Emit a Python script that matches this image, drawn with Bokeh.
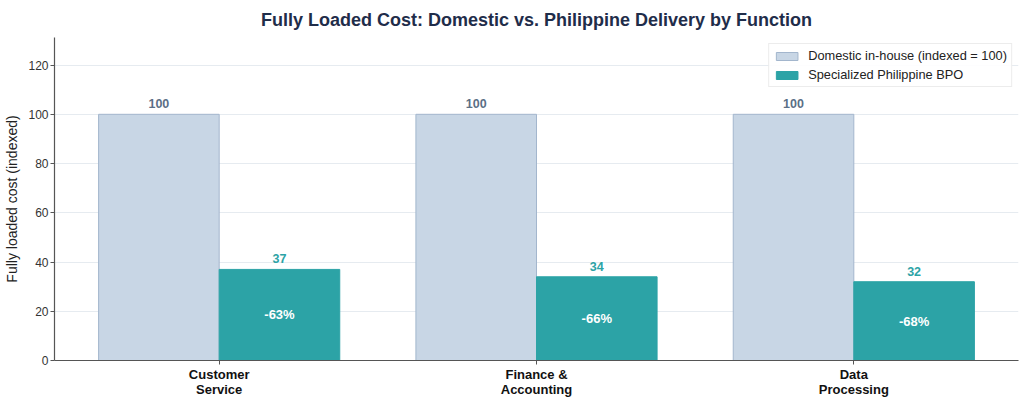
from bokeh.plotting import figure
from bokeh.models import FixedTicker, ColumnDataSource, Range1d, Legend, LegendItem
from bokeh.core.properties import value
from bokeh.embed import file_html
from bokeh.resources import INLINE

categories = ["Customer\nService", "Finance &\nAccounting", "Data\nProcessing"]
domestic = [100, 100, 100]
philippine = [37, 34, 32]
series_names = ["Domestic in-house (indexed = 100)", "Specialized Philippine BPO"]
y_ticks = [0, 20, 40, 60, 80, 100, 120]
title_text = "Fully Loaded Cost: Domestic vs. Philippine Delivery by Function"

FONT = "Liberation Sans"
W = 0.38
idx = list(range(len(categories)))
xd = [i - W / 2 for i in idx]
xp = [i + W / 2 for i in idx]
savings = [f"{round((p - d) / d * 100)}%" for p, d in zip(philippine, domestic)]

p = figure(width=1024, height=403, output_backend="svg", toolbar_location=None,
           x_range=Range1d(-0.519, 2.519), y_range=Range1d(0, 131.2),
           min_border_left=54, min_border_right=6, min_border_top=35, min_border_bottom=43)

p.title.text = title_text
p.title.align = "center"
p.title.text_font = FONT
p.title.text_font_size = "18px"
p.title.text_font_style = "bold"
p.title.text_color = "#1f2d4a"
p.title.offset = 0
p.title.standoff = 15

src_d = ColumnDataSource(dict(x=xd, top=domestic, lab=[str(v) for v in domestic]))
src_p = ColumnDataSource(dict(x=xp, top=philippine, lab=[str(v) for v in philippine],
                              mid=[v / 2 for v in philippine], sav=savings))

rd = p.vbar(x="x", top="top", width=W, source=src_d, fill_color="#c8d6e5",
            line_color="#a3b6cd", line_width=1)
rp = p.vbar(x="x", top="top", width=W, source=src_p, fill_color="#2ca3a6",
            line_color="#2ca3a6", line_width=1)

p.text(x="x", y="top", text="lab", source=src_d, text_align="center", text_baseline="bottom",
       y_offset=-6, text_font=value(FONT), text_font_size="12.5px", text_font_style="bold",
       text_color="#5b6f86")
p.text(x="x", y="top", text="lab", source=src_p, text_align="center", text_baseline="bottom",
       y_offset=-6, text_font=value(FONT), text_font_size="12.5px", text_font_style="bold",
       text_color="#2ca3a6")
p.text(x="x", y="mid", text="sav", source=src_p, text_align="center", text_baseline="middle",
       text_font=value(FONT), text_font_size="13px", text_font_style="bold",
       text_color="white")

legend = Legend(items=[LegendItem(label=series_names[0], renderers=[rd]),
                       LegendItem(label=series_names[1], renderers=[rp])],
                location="top_right")
legend.label_text_font = FONT
legend.label_text_font_size = "12.8px"
legend.label_text_color = "#222222"
legend.glyph_width = 27
legend.glyph_height = 10
legend.label_height = 15
legend.spacing = 4
legend.padding = 4
legend.margin = 6
legend.label_standoff = 8
legend.border_line_color = "#d9d9d9"
legend.background_fill_alpha = 0.9
p.add_layout(legend)

p.xaxis.ticker = FixedTicker(ticks=idx)
p.xaxis.major_label_overrides = {i: c for i, c in zip(idx, categories)}
p.xaxis.major_label_text_font = FONT
p.xaxis.major_label_text_font_size = "13px"
p.xaxis.major_label_text_font_style = "bold"
p.xaxis.major_label_text_color = "#111111"
p.xaxis.major_label_text_line_height = 1.0
p.xaxis.major_label_standoff = 2
p.xaxis.axis_line_color = "#555555"
p.xaxis.axis_line_width = 1.2
p.xaxis.major_tick_line_color = "#555555"
p.xaxis.major_tick_out = 4
p.xaxis.major_tick_in = 0
p.xaxis.minor_tick_line_color = None

p.yaxis.ticker = FixedTicker(ticks=y_ticks)
p.yaxis.axis_label = "Fully loaded cost (indexed)"
p.yaxis.axis_label_text_font = FONT
p.yaxis.axis_label_text_font_size = "14px"
p.yaxis.axis_label_text_font_style = "normal"
p.yaxis.axis_label_text_color = "#222222"
p.yaxis.axis_label_standoff = 5
p.yaxis.major_label_standoff = 2
p.yaxis.major_label_text_font = FONT
p.yaxis.major_label_text_font_size = "12px"
p.yaxis.major_label_text_color = "#333333"
p.yaxis.axis_line_color = "#555555"
p.yaxis.axis_line_width = 1.2
p.yaxis.major_tick_line_color = "#555555"
p.yaxis.major_tick_out = 4
p.yaxis.major_tick_in = 0
p.yaxis.minor_tick_line_color = None

p.xgrid.grid_line_color = None
p.ygrid.grid_line_color = "#e6ebf0"
p.outline_line_color = None
p.background_fill_color = "white"
p.border_fill_color = "white"

open("out.html", "w").write(file_html(p, INLINE))
